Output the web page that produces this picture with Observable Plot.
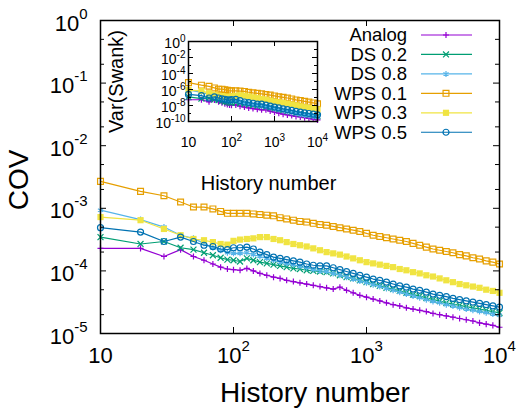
<!DOCTYPE html>
<html><head><meta charset="utf-8">
<script src="https://cdn.jsdelivr.net/npm/d3@7"></script>
<script src="https://cdn.jsdelivr.net/npm/@observablehq/plot@0.6"></script>
<style>
body{margin:0;background:#fff;}
#chart{position:relative;width:519px;height:415px;}
#chart svg{position:absolute;overflow:visible;}
</style></head><body><div id="chart"></div>
<script>
// ---------- data (stored as log10) ----------
const historyX = [10,20,30,40,50,60,70,80,90,100,112,126,141,158,178,200,224,251,282,316,355,398,447,501,562,631,708,794,891,1000,1122,1259,1413,1585,1778,1995,2239,2512,2818,3162,3548,3981,4467,5012,5623,6310,7079,7943,8913,10000];
const seriesNames = ["Analog","DS 0.2","DS 0.8","WPS 0.1","WPS 0.3","WPS 0.5"];
const seriesColors = ["#9400D3","#009E73","#56B4E9","#E69F00","#F0E442","#0072B2"];
const seriesSymbols = ["plus","times","asterisk","square","square","circle"];
const seriesFilled = [false,false,false,false,true,false];
const seriesR = [2.1,2.8,2.8,3.3,3.5,3.0];

// log10(COV)
const covAnalog = [-3.64,-3.64,-3.77,-3.66,-3.77,-3.83,-3.89,-3.94,-3.97,-3.98,-3.99,-3.96,-4.00,-4.04,-4.07,-4.10,-4.12,-4.15,-4.17,-4.19,-4.21,-4.23,-4.25,-4.27,-4.29,-4.26,-4.31,-4.35,-4.39,-4.42,-4.45,-4.48,-4.51,-4.54,-4.56,-4.59,-4.61,-4.63,-4.65,-4.68,-4.70,-4.72,-4.74,-4.76,-4.78,-4.80,-4.83,-4.85,-4.87,-4.90];
const covDS02 = [-3.46,-3.57,-3.53,-3.63,-3.66,-3.71,-3.75,-3.79,-3.82,-3.83,-3.85,-3.80,-3.83,-3.86,-3.88,-3.90,-3.92,-3.94,-3.96,-3.97,-3.99,-4.00,-4.01,-4.02,-4.04,-4.07,-4.10,-4.12,-4.15,-4.18,-4.21,-4.24,-4.27,-4.29,-4.32,-4.35,-4.38,-4.40,-4.43,-4.46,-4.48,-4.51,-4.53,-4.55,-4.57,-4.59,-4.61,-4.63,-4.65,-4.67];
const covDS08 = [-3.03,-3.18,-3.30,-3.43,-3.48,-3.56,-3.63,-3.67,-3.71,-3.72,-3.72,-3.71,-3.74,-3.77,-3.80,-3.83,-3.86,-3.88,-3.90,-3.93,-3.95,-3.98,-4.00,-4.01,-4.04,-4.07,-4.10,-4.13,-4.16,-4.19,-4.22,-4.25,-4.28,-4.31,-4.34,-4.37,-4.40,-4.43,-4.46,-4.49,-4.51,-4.54,-4.56,-4.59,-4.61,-4.63,-4.65,-4.67,-4.69,-4.71];
const covWPS01 = [-2.57,-2.73,-2.80,-2.90,-2.98,-2.98,-3.01,-3.05,-3.08,-3.08,-3.08,-3.08,-3.09,-3.10,-3.11,-3.12,-3.15,-3.17,-3.19,-3.21,-3.22,-3.24,-3.26,-3.27,-3.29,-3.31,-3.33,-3.35,-3.37,-3.40,-3.43,-3.45,-3.47,-3.49,-3.51,-3.53,-3.56,-3.59,-3.62,-3.65,-3.67,-3.69,-3.71,-3.74,-3.76,-3.79,-3.81,-3.84,-3.86,-3.89];
const covWPS03 = [-3.14,-3.19,-3.33,-3.43,-3.49,-3.51,-3.54,-3.57,-3.58,-3.52,-3.50,-3.49,-3.48,-3.46,-3.46,-3.49,-3.51,-3.54,-3.57,-3.59,-3.61,-3.64,-3.67,-3.70,-3.72,-3.74,-3.77,-3.80,-3.83,-3.86,-3.88,-3.90,-3.92,-3.94,-3.97,-3.99,-4.02,-4.04,-4.07,-4.09,-4.12,-4.15,-4.18,-4.21,-4.23,-4.25,-4.27,-4.30,-4.32,-4.35];
const covWPS05 = [-3.31,-3.38,-3.53,-3.46,-3.53,-3.59,-3.61,-3.65,-3.66,-3.63,-3.63,-3.62,-3.65,-3.70,-3.74,-3.78,-3.80,-3.82,-3.84,-3.86,-3.89,-3.91,-3.92,-3.92,-3.95,-3.98,-4.01,-4.04,-4.07,-4.10,-4.13,-4.15,-4.18,-4.21,-4.24,-4.26,-4.29,-4.31,-4.34,-4.37,-4.39,-4.41,-4.44,-4.46,-4.48,-4.50,-4.52,-4.54,-4.56,-4.58];

// inset: log10(Var(Swank))
const insetX = [10,20,30,40,50,60,70,80,90,100,126,158,200,251,316,398,501,631,794,1000,1259,1585,1995,2512,3162,3981,5012,6310,7943,10000];
const varAnalog = [-7.28,-7.28,-7.54,-7.32,-7.54,-7.66,-7.78,-7.88,-7.94,-7.96,-7.92,-8.08,-8.20,-8.30,-8.38,-8.46,-8.54,-8.52,-8.70,-8.84,-8.96,-9.08,-9.18,-9.26,-9.36,-9.44,-9.52,-9.60,-9.70,-9.80];
const varDS02 = [-6.92,-7.14,-7.06,-7.26,-7.32,-7.42,-7.50,-7.58,-7.64,-7.66,-7.60,-7.72,-7.80,-7.88,-7.94,-8.00,-8.04,-8.14,-8.24,-8.36,-8.48,-8.58,-8.70,-8.80,-8.92,-9.02,-9.10,-9.18,-9.26,-9.34];
const varDS08 = [-6.06,-6.36,-6.60,-6.86,-6.96,-7.12,-7.26,-7.34,-7.42,-7.44,-7.42,-7.54,-7.66,-7.76,-7.86,-7.96,-8.02,-8.14,-8.26,-8.38,-8.50,-8.62,-8.74,-8.86,-8.98,-9.08,-9.18,-9.26,-9.34,-9.42];
const varWPS01 = [-5.14,-5.46,-5.60,-5.80,-5.96,-5.96,-6.02,-6.10,-6.16,-6.16,-6.16,-6.20,-6.24,-6.34,-6.42,-6.48,-6.54,-6.62,-6.70,-6.80,-6.90,-6.98,-7.06,-7.18,-7.30,-7.38,-7.48,-7.58,-7.68,-7.78];
const varWPS03 = [-6.08,-6.18,-6.46,-6.66,-6.78,-6.82,-6.88,-6.94,-6.96,-6.84,-6.78,-6.72,-6.78,-6.88,-6.98,-7.08,-7.20,-7.28,-7.40,-7.52,-7.60,-7.68,-7.78,-7.88,-7.98,-8.10,-8.22,-8.30,-8.40,-8.50];
const varWPS05 = [-6.62,-6.76,-7.06,-6.92,-7.06,-7.18,-7.22,-7.30,-7.32,-7.26,-7.24,-7.40,-7.56,-7.64,-7.72,-7.82,-7.84,-7.96,-8.08,-8.20,-8.30,-8.42,-8.52,-8.62,-8.74,-8.82,-8.92,-9.00,-9.08,-9.16];

// tick values
const xMajor = [10,100,1000,10000];
const yMajor = [1,1e-1,1e-2,1e-3,1e-4,1e-5];
const yMinor = [5e-1,2e-1,5e-2,2e-2,5e-3,2e-3,5e-4,2e-4,5e-5,2e-5];
const yMajorIn = [1,1e-2,1e-4,1e-6,1e-8,1e-10];
const yMinorIn = [1e-1,1e-3,1e-5,1e-7,1e-9];

// ---------- drawing ----------
const font = "'Liberation Sans', Arial, Helvetica, sans-serif";
const NS = "http://www.w3.org/2000/svg";
const mainSeries = [covAnalog,covDS02,covDS08,covWPS01,covWPS03,covWPS05];
const insetSeries = [varAnalog,varDS02,varDS08,varWPS01,varWPS03,varWPS05];

function rows(xs, logs, name){ return xs.map((x,i)=>({series:name, x, v: Math.pow(10, logs[i])})); }
function seriesMarks(xs, list){
  const marks = [];
  list.forEach((logs,i)=>{
    const data = rows(xs, logs, seriesNames[i]);
    const filled = seriesFilled[i];
    marks.push(Plot.line(data,{x:"x",y:"v",stroke:seriesColors[i],strokeWidth:1.2}));
    marks.push(Plot.dot(data,{x:"x",y:"v",symbol:seriesSymbols[i],r:seriesR[i],
      fill: filled ? seriesColors[i] : "none", stroke: filled ? "none" : seriesColors[i], strokeWidth:1.2}));
  });
  return marks;
}
const expLabel = d => d === 10 ? "10" : "10^" + Math.round(Math.log10(d));

// turn "10^k" tick texts into 10 + raised superscript
function supify(svg, supSize, raise){
  svg.querySelectorAll("text").forEach(t=>{
    const s = t.textContent;
    if (!s.includes("^")) return;
    const parts = s.split("^");
    t.textContent = "";
    const a = document.createElementNS(NS,"tspan"); a.textContent = parts[0]; t.appendChild(a);
    const b = document.createElementNS(NS,"tspan");
    b.setAttribute("font-size", supSize); b.setAttribute("dy", -raise);
    b.textContent = parts[1]; t.appendChild(b);
  });
}

const mW = 519, mH = 415, mL = 100, mR = 20, mT = 20, mB = 82;
const pW = mW - mL - mR, pH = mH - mT - mB;
const main = Plot.plot({
  width: mW, height: mH, marginLeft: mL, marginRight: mR, marginTop: mT, marginBottom: mB,
  style: {fontFamily: font, background: "transparent", overflow: "visible"},
  x: {type: "log", domain: [10, 1e4], axis: null},
  y: {type: "log", domain: [1e-5, 1], axis: null},
  marks: [
    ...seriesMarks(historyX, mainSeries),
    Plot.ruleY(yMajor, {insetRight: pW - 6, stroke: "black"}),
    Plot.ruleY(yMajor, {insetLeft: pW - 6, stroke: "black"}),
    Plot.ruleY(yMinor, {insetRight: pW - 4, stroke: "black"}),
    Plot.ruleY(yMinor, {insetLeft: pW - 4, stroke: "black"}),
    Plot.ruleX(xMajor, {insetTop: pH - 6, stroke: "black"}),
    Plot.ruleX(xMajor, {insetBottom: pH - 6, stroke: "black"}),
    Plot.frame({stroke: "black", strokeWidth: 1.5}),
    Plot.text(yMajor, {y: d=>d, frameAnchor: "left", dx: -13, dy: 3, textAnchor: "end", text: expLabel, fontSize: 22, fill: "black"}),
    Plot.text(xMajor, {x: d=>d, frameAnchor: "bottom", dy: 29, textAnchor: "middle", text: expLabel, fontSize: 22, fill: "black"}),
    Plot.text(["COV"], {text: d=>d, frameAnchor: "left", textAnchor: "middle", dx: -81, dy: 3, rotate: -90, fontSize: 28, fill: "black"}),
    Plot.text(["History number"], {text: d=>d, frameAnchor: "bottom", textAnchor: "middle", dx: 15, dy: 68, fontSize: 28, fill: "black"})
  ]
});
main.style.left = "0px"; main.style.top = "0px";

// legend
const symMap = {plus: d3.symbolPlus, times: d3.symbolTimes, asterisk: d3.symbolAsterisk, square: d3.symbolSquare, circle: d3.symbolCircle};
const lg = d3.select(main).append("g").attr("font-family", font).attr("font-size", 18.5);
seriesNames.forEach((name,i)=>{
  const y = 35 + 19.45*i;
  lg.append("text").attr("x",407).attr("y",y).attr("dy","0.35em").attr("text-anchor","end").attr("fill","black").text(name);
  lg.append("line").attr("x1",421).attr("x2",472).attr("y1",y).attr("y2",y).attr("stroke",seriesColors[i]).attr("stroke-width",1.2);
  lg.append("path").attr("transform",`translate(446,${y})`)
    .attr("d", d3.symbol(symMap[seriesSymbols[i]], Math.PI*seriesR[i]*seriesR[i])())
    .attr("fill", seriesFilled[i] ? seriesColors[i] : "none")
    .attr("stroke", seriesFilled[i] ? "none" : seriesColors[i]).attr("stroke-width",1.2);
});

// inset
const iL = 88, iT = 21, iW = 129, iH = 80, iR = 30, iB = 80;
const inset = Plot.plot({
  width: iL + iW + iR, height: iT + iH + iB, marginLeft: iL, marginRight: iR, marginTop: iT, marginBottom: iB,
  style: {fontFamily: font, background: "transparent", overflow: "visible"},
  x: {type: "log", domain: [10, 1e4], axis: null},
  y: {type: "log", domain: [1e-10, 1], axis: null},
  marks: [
    ...seriesMarks(insetX, insetSeries),
    Plot.ruleY(yMajorIn, {insetRight: iW - 5, stroke: "black"}),
    Plot.ruleY(yMajorIn, {insetLeft: iW - 5, stroke: "black"}),
    Plot.ruleY(yMinorIn, {insetRight: iW - 3, stroke: "black"}),
    Plot.ruleY(yMinorIn, {insetLeft: iW - 3, stroke: "black"}),
    Plot.ruleX(xMajor, {insetTop: iH - 5, stroke: "black"}),
    Plot.ruleX(xMajor, {insetBottom: iH - 5, stroke: "black"}),
    Plot.frame({stroke: "black", strokeWidth: 1.5}),
    Plot.text(yMajorIn, {y: d=>d, frameAnchor: "left", dx: -3, dy: 2, textAnchor: "end", text: expLabel, fontSize: 14, fill: "black"}),
    Plot.text(xMajor, {x: d=>d, frameAnchor: "bottom", dy: 25, textAnchor: "middle", text: expLabel, fontSize: 14, fill: "black"}),
    Plot.text(["Var(Swank)"], {text: d=>d, frameAnchor: "left", textAnchor: "middle", dx: -72, rotate: -90, fontSize: 20, fill: "black"}),
    Plot.text(["History number"], {text: d=>d, frameAnchor: "bottom", textAnchor: "middle", dx: 15.5, dy: 68, fontSize: 20, fill: "black"})
  ]
});
inset.style.left = (mL) + "px"; inset.style.top = (mT) + "px";
const chart = document.getElementById("chart");
chart.appendChild(main);
chart.appendChild(inset);
supify(main, 15, 12);
supify(inset, 10, 6);
</script>
</body></html>
